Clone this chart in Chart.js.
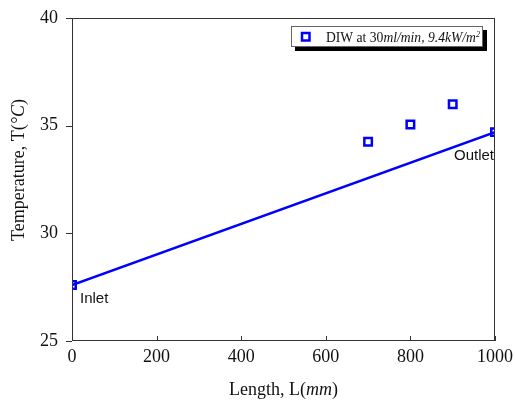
<!DOCTYPE html>
<html>
<head>
<meta charset="utf-8">
<script src="https://cdn.jsdelivr.net/npm/chart.js@4/dist/chart.umd.min.js"></script>
<style>
  html, body { margin: 0; padding: 0; background: #fff; }
  #wrap { width: 515px; height: 402px; position: relative; }
</style>
</head>
<body>
<div id="wrap"><canvas id="c" width="515" height="402"></canvas></div>
<script>
// Measured wall temperature along the channel
const lengths = [0, 700, 800, 900, 1000];
const temps = [27.6, 34.25, 35.05, 36.0, 34.7];

// Linear inlet-to-outlet profile
const profileLengths = [0, 1000];
const profileTemps = [27.6, 34.7];

// Axis ticks
const xTicks = [0, 200, 400, 600, 800, 1000];
const yTicks = [25, 30, 35, 40];

// Legend text pieces: [text, italic, superscript]
const legendParts = [
  ['DIW at 30', false, false],
  ['ml/min, 9.4kW/m', true, false],
  ['2', true, true]
];

const BLUE = '#0000ff';
const SERIF = '"Liberation Serif", "Times New Roman", serif';
const SANS = '"Liberation Sans", Arial, sans-serif';

function drawRich(ctx, parts, x, y, size, align) {
  const measure = (p) => {
    ctx.font = (p[1] ? 'italic ' : '') + (p[2] ? Math.round(size * 0.6) : size) + 'px ' + SERIF;
    return ctx.measureText(p[0]).width;
  };
  let total = 0;
  parts.forEach(p => total += measure(p));
  let cx = align === 'center' ? x - total / 2 : x;
  ctx.textBaseline = 'alphabetic';
  ctx.textAlign = 'left';
  parts.forEach(p => {
    const w = measure(p);
    ctx.fillText(p[0], cx, p[2] ? y - size * 0.4 : y);
    cx += w;
  });
}

const decorations = {
  id: 'decorations',
  afterDatasetsDraw(chart) {
    const ctx = chart.ctx;
    const a = chart.chartArea;
    const xs = chart.scales.x, ys = chart.scales.y;
    ctx.save();
    // frame
    ctx.strokeStyle = '#333';
    ctx.lineWidth = 1;
    ctx.strokeRect(a.left + 0.5, a.top + 0.5, a.right - a.left - 1, a.bottom - a.top - 1);
    // inward ticks on the length axis
    ctx.beginPath();
    xTicks.forEach(v => {
      const px = Math.round(xs.getPixelForValue(v)) + 0.5;
      ctx.moveTo(px, a.bottom);
      ctx.lineTo(px, a.bottom - 5);
    });
    // outward ticks on the temperature axis
    yTicks.forEach(v => {
      const py = Math.round(ys.getPixelForValue(v)) + 0.5;
      ctx.moveTo(a.left, py);
      ctx.lineTo(a.left - 6, py);
    });
    ctx.stroke();

    // point annotations
    ctx.fillStyle = '#111';
    ctx.font = '15px ' + SANS;
    ctx.textBaseline = 'middle';
    ctx.textAlign = 'left';
    ctx.fillText('Inlet', xs.getPixelForValue(0) + 8, ys.getPixelForValue(27.6) + 14);
    ctx.textAlign = 'right';
    ctx.fillText('Outlet', xs.getPixelForValue(1000) - 1, ys.getPixelForValue(34.7) + 24);

    // legend box with drop shadow
    const lx = 291, ly = 26, lw = 192, lh = 21;
    ctx.fillStyle = '#000';
    ctx.fillRect(lx + 4, ly + 4, lw, lh);
    ctx.fillStyle = '#fff';
    ctx.fillRect(lx, ly, lw, lh);
    ctx.strokeStyle = '#666';
    ctx.lineWidth = 1;
    ctx.strokeRect(lx + 0.5, ly + 0.5, lw - 1, lh - 1);
    ctx.strokeStyle = BLUE;
    ctx.lineWidth = 2.5;
    ctx.strokeRect(lx + 11, ly + 7, 7.5, 7.5);
    ctx.fillStyle = '#111';
    drawRich(ctx, legendParts, lx + 35, ly + 16, 13.6, 'left');

    // axis titles
    ctx.fillStyle = '#111';
    drawRich(ctx, [['Length, L(', false, false], ['mm', true, false], [')', false, false]],
      (a.left + a.right) / 2, 395, 18, 'center');
    ctx.translate(24, 170);
    ctx.rotate(-Math.PI / 2);
    drawRich(ctx, [['Temperature, T(', false, false], ['°C', true, false], [')', false, false]],
      0, 0, 18, 'center');
    ctx.restore();
  }
};

new Chart(document.getElementById('c'), {
  type: 'scatter',
  data: {
    datasets: [
      {
        label: 'DIW at 30ml/min, 9.4kW/m2',
        data: lengths.map((x, i) => ({ x, y: temps[i] })),
        pointStyle: 'rect',
        pointRadius: 5.3,
        pointHoverRadius: 5.3,
        pointBorderWidth: 2.5,
        pointBackgroundColor: 'rgba(0,0,0,0)',
        pointBorderColor: BLUE,
        showLine: false,
        clip: 0
      },
      {
        label: 'profile',
        data: profileLengths.map((x, i) => ({ x, y: profileTemps[i] })),
        showLine: true,
        borderColor: BLUE,
        borderWidth: 2.5,
        pointRadius: 0,
        clip: 0
      }
    ]
  },
  options: {
    responsive: false,
    animation: false,
    layout: { padding: { left: 0, right: 20, top: 18, bottom: 0 } },
    plugins: { legend: { display: false }, tooltip: { enabled: false } },
    scales: {
      x: {
        type: 'linear',
        min: 0, max: 1000,
        afterBuildTicks: s => { s.ticks = xTicks.map(v => ({ value: v })); },
        afterFit: s => { s.height = 61; },
        grid: { display: false },
        border: { display: false },
        ticks: {
          color: '#111', font: { family: SERIF, size: 18 }, padding: -3, maxRotation: 0,
          callback: v => String(v)
        }
      },
      y: {
        type: 'linear',
        min: 25, max: 40,
        afterBuildTicks: s => { s.ticks = yTicks.map(v => ({ value: v })); },
        afterFit: s => { s.width = 72; },
        grid: { display: false },
        border: { display: false },
        ticks: { color: '#111', font: { family: SERIF, size: 18 }, padding: 6 }
      }
    }
  },
  plugins: [decorations]
});
</script>
</body>
</html>
